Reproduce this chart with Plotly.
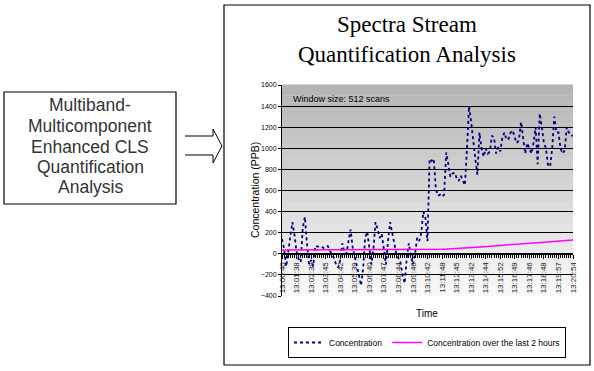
import plotly.graph_objects as go

# ---------------- data ----------------
tick_labels = ["13:00:40", "13:01:38", "13:02:39", "13:03:45", "13:04:42", "13:05:39",
               "13:06:40", "13:07:47", "13:08:44", "13:09:46", "13:10:42", "13:11:48",
               "13:12:45", "13:13:42", "13:14:44", "13:15:52", "13:16:49", "13:17:46",
               "13:18:48", "13:19:57", "13:20:54"]

concentration = [140, 50, -120, 20, 110, 300, 180, 20, -50, -80,
                 250, 350, 100, -100, -60, -120, 75, 70, 65, 70,
                 55, 65, 75, 30, 0, -40, -100, -130, -60, 100,
                 20, 0, 120, 230, 60, -20, -120, -200, -300, -150,
                 150, 210, 60, -100, 50, 300, 230, 150, 190, 60,
                 -100, 120, 300, 200, 80, 0, -40, -80, -200, -280,
                 -50, 100, -20, -100, 0, 150, 120, 200, 400, 340,
                 120, 900, 880, 900, 620, 550, 560, 540, 560, 960,
                 850, 730, 760, 770, 720, 690, 740, 700, 650, 1000,
                 1400, 1250, 1050, 900, 750, 1150, 1000, 920, 1000, 950,
                 970, 1120, 1100, 950, 1010, 970, 1100, 1150, 1080, 1090,
                 1150, 1170, 1100, 1050, 1080, 1250, 1100, 950, 1050, 1000,
                 950, 1050, 1200, 850, 1330, 1200, 1050, 1000, 830, 830,
                 1000, 1300, 1150, 1150, 1000, 950, 980, 1200, 1150, 1120,
                 1120]

conc_2h = [35, 35, 35, 35, 35, 35, 35, 35, 35, 35,
           35, 35, 35, 35, 35, 35, 35, 35, 35, 35,
           35, 35, 35, 35, 35, 35, 35, 35, 35, 35,
           35, 35, 35, 35, 35, 35, 35, 35, 35, 35,
           35, 35, 35, 35, 35, 35, 35, 35, 35, 35,
           35, 35, 35, 35, 35, 35, 35, 35, 35, 35,
           35, 35, 35, 35, 35, 35, 35, 35, 35, 35,
           36, 36, 37, 37, 38, 40, 40, 42, 43, 44,
           45, 46, 48, 49, 50, 52, 53, 54, 55, 56,
           58, 59, 60, 61, 63, 65, 66, 68, 69, 70,
           72, 74, 75, 76, 78, 79, 80, 82, 83, 85,
           86, 88, 90, 91, 92, 94, 95, 96, 98, 99,
           100, 102, 103, 105, 107, 108, 110, 111, 113, 114,
           115, 117, 118, 119, 120, 122, 124, 125, 126, 128,
           130]

box_lines = ["Multiband-", "Multicomponent", "Enhanced CLS", "Quantification", "Analysis"]

x_idx = list(range(len(concentration)))
step = (len(concentration) - 1) // (len(tick_labels) - 1)
tick_vals = [i * step for i in range(len(tick_labels))]

# ---------------- layout helpers (pixel -> paper) ----------------
W, H = 594, 371
L, R, T, B = 282, 573, 85, 296
def px(xp):
    return (xp - L) / (R - L)
def py(yp):
    return (B - yp) / (B - T)

SANS = "Liberation Sans, Arial, sans-serif"
SERIF = "Liberation Serif, Times New Roman, serif"

fig = go.Figure()
fig.add_trace(go.Scatter(x=x_idx, y=concentration, mode="lines", name="Concentration",
                         line=dict(color="#000080", width=1.8, dash="dot")))
fig.add_trace(go.Scatter(x=x_idx, y=conc_2h, mode="lines",
                         name="Concentration over the last 2 hours",
                         line=dict(color="#ff00ff", width=1.5)))

shapes = []
# gradient background bands
nb = 60
for i in range(nb):
    f0, f1 = i / nb, (i + 1) / nb
    g = int(250 - (250 - 180) * (f0 + f1) / 2)
    shapes.append(dict(type="rect", xref="x domain", yref="y domain", x0=0, x1=1,
                       y0=f0, y1=f1 + 0.002, line=dict(width=0),
                       fillcolor=f"rgb({g},{g},{g})", layer="below"))
# outer frame around chart
shapes.append(dict(type="rect", xref="paper", yref="paper", x0=px(224), x1=px(590),
                   y0=py(365), y1=py(5), line=dict(color="black", width=1.2)))
# left text box
shapes.append(dict(type="rect", xref="paper", yref="paper", x0=px(4), x1=px(176),
                   y0=py(204), y1=py(92), line=dict(color="black", width=1.2)))
# hollow arrow
pts = [(185, 136), (213, 136), (213, 129), (222, 146), (213, 163), (213, 155), (185, 155)]
path = "M " + " L ".join(f"{px(a):.5f},{py(b):.5f}" for a, b in pts)
shapes.append(dict(type="path", xref="paper", yref="paper", path=path,
                   line=dict(color="black", width=1)))

annotations = [
    dict(text="Spectra Stream<br>Quantification Analysis", xref="paper", yref="paper",
         x=px(407), y=py(40), xanchor="center", yanchor="middle", showarrow=False,
         font=dict(family=SERIF, size=23, color="black")),
    dict(text="Window size: 512 scans", xref="paper", yref="paper", x=px(291),
         y=py(99), xanchor="left", yanchor="middle", showarrow=False,
         font=dict(family=SANS, size=9, color="black")),
    dict(text="Time", xref="paper", yref="paper", x=px(427), y=py(313),
         xanchor="center", yanchor="middle", showarrow=False,
         font=dict(family=SANS, size=10, color="black")),
    dict(text="Concentration (PPB)", xref="paper", yref="paper", x=px(255),
         y=py(190), xanchor="center", yanchor="middle", textangle=-90,
         showarrow=False, font=dict(family=SANS, size=10.5, color="black")),
]
line_y = [105, 126, 147, 167, 187]
for txt, yy in zip(box_lines, line_y):
    annotations.append(dict(text=txt, xref="paper", yref="paper", x=px(90), y=py(yy),
                            xanchor="center", yanchor="middle", showarrow=False,
                            font=dict(family=SANS, size=17.5, color="#333333")))

fig.update_layout(
    width=W, height=H,
    margin=dict(l=L, r=W - R, t=T, b=H - B),
    paper_bgcolor="white", plot_bgcolor="white",
    shapes=shapes, annotations=annotations,
    showlegend=True,
    legend=dict(orientation="h", x=px(427), xanchor="center", y=py(327), yanchor="top",
                bordercolor="black", borderwidth=1, bgcolor="white",
                font=dict(family=SANS, size=8.5, color="black"),
                itemwidth=30, tracegroupgap=0, traceorder="normal"),
    xaxis=dict(range=[0, len(concentration) - 1], anchor="free", position=py(254),
               tickmode="array", tickvals=tick_vals, ticktext=tick_labels,
               tickangle=-90, tickfont=dict(family=SANS, size=8, color="#222222"),
               showline=True, linecolor="black", linewidth=1,
               ticks="outside", ticklen=4, tickcolor="black",
               minor=dict(dtick=1, tick0=0, ticks="outside", ticklen=3, tickcolor="black"),
               showgrid=False, zeroline=False, fixedrange=True),
    yaxis=dict(range=[-400, 1600], dtick=200, tick0=0,
               tickfont=dict(family=SANS, size=7, color="black"),
               showline=True, linecolor="black", linewidth=1,
               ticks="outside", ticklen=3, tickcolor="black",
               showgrid=True, gridcolor="black", gridwidth=1,
               zeroline=False, fixedrange=True),
)

fig.write_html("out.html", config={"displayModeBar": False},
               post_script="document.body.style.margin='0';")
